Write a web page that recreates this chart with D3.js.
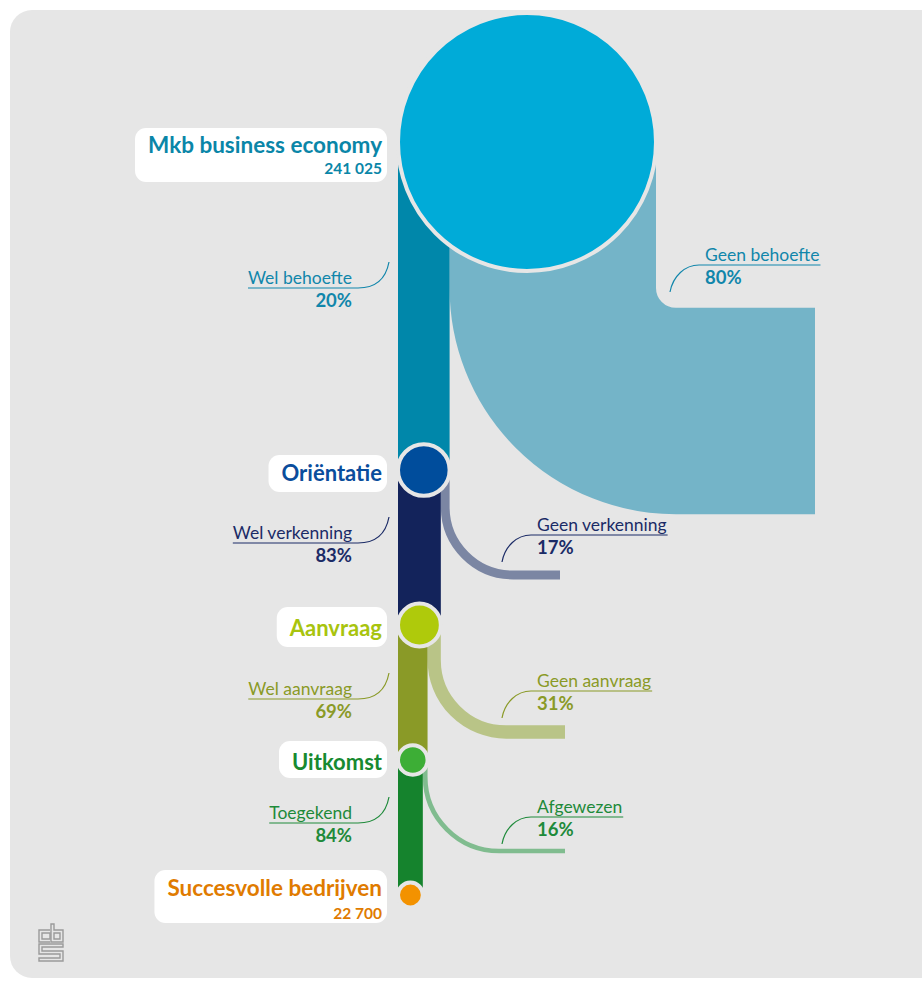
<!DOCTYPE html>
<html><head><meta charset="utf-8">
<script src="https://cdn.jsdelivr.net/npm/d3@7/dist/d3.min.js"></script>
<style>body{margin:0;background:#fff;}svg{display:block;font-family:Lato,"Open Sans",sans-serif;}</style>
</head><body>
<svg id="c" width="922" height="983"></svg>
<script>
// ---- data ----
const stages = ["Mkb business economy", "Oriëntatie", "Aanvraag", "Uitkomst", "Succesvolle bedrijven"];
const stageCounts = ["241 025", "", "", "", "22 700"];
const welLabels = ["Wel behoefte", "Wel verkenning", "Wel aanvraag", "Toegekend"];
const welPct = [20, 83, 69, 84];
const geenLabels = ["Geen behoefte", "Geen verkenning", "Geen aanvraag", "Afgewezen"];
const geenPct = [80, 17, 31, 16];

// ---- styling / layout ----
const stageColors = ["#00abd8", "#004d9c", "#afca0b", "#3dae36", "#f39200"];
const stageTextColors = ["#0a86a8", "#0a4d9c", "#a8c40e", "#178a30", "#e07b00"];
const welColors = ["#0087aa", "#13235b", "#8a9a27", "#15832d"];
const geenColors = ["#74b4c8", "#7b86a3", "#b9c487", "#80bc8f"];
const labelColors = ["#1186ab", "#1b2b66", "#8a9a27", "#1e8a3a"];
const stageY = [142, 470, 625, 760, 895];
const boxTopOff = [-14, -15, -18, -19, -25];
const boxH = [54, 37, 40, 37, 53];
const textOff = [11, 11, 11, 10, 1];
const countOff = [32, 0, 0, 0, 24];
const geenEndY = [411, 575, 732, 851];
const geenEndX = [815, 560, 565, 565];
const geenRadius = [123, 68, 72, 74];
const x0 = 398;
const bg = "#e6e6e6";

const svg = d3.select("#c");
svg.append("rect").attr("x", 10).attr("y", 10).attr("width", 940).attr("height", 968)
  .attr("rx", 22).attr("fill", bg);

// width scale: share (%) of parent width -> pixels
const topWidth = 258;
const pct = d3.scaleLinear().domain([0, 100]);
const widths = [topWidth];
welPct.forEach((p, i) => widths.push(pct.range([0, widths[i]])(p)));

// geen flows (drawn first)
geenPct.forEach((p, i) => {
  const W = widths[i];
  const g = pct.range([0, W])(p);
  const wl = W - g;
  const cx = x0 + wl + g / 2;
  const r = geenRadius[i];
  const yStart = stageY[i];
  const yEnd = geenEndY[i];
  const path = d3.path();
  path.moveTo(cx, yStart);
  path.lineTo(cx, yEnd - r);
  path.arcTo(cx, yEnd, cx + r, yEnd, r);
  path.lineTo(geenEndX[i], yEnd);
  svg.append("path").attr("d", path.toString()).attr("fill", "none")
    .attr("stroke", geenColors[i]).attr("stroke-width", g);
});

// wel bars
welPct.forEach((p, i) => {
  svg.append("rect").attr("x", x0).attr("y", stageY[i])
    .attr("width", widths[i + 1]).attr("height", stageY[i + 1] - stageY[i])
    .attr("fill", welColors[i]);
});

// stage circles
stages.forEach((s, i) => {
  const r = widths[i] / 2;
  svg.append("circle").attr("cx", x0 + r).attr("cy", stageY[i]).attr("r", r)
    .attr("fill", stageColors[i]).attr("stroke", bg).attr("stroke-width", 4);
});

// stage labels
const boxRight = 387;
stages.forEach((s, i) => {
  const g = svg.append("g");
  const big = i === 0 || i === 4 ? 22.5 : 22;
  const t = g.append("text").attr("x", boxRight - 5).attr("y", stageY[i] + textOff[i])
    .attr("text-anchor", "end").attr("font-size", big).attr("font-weight", 700)
    .attr("fill", stageTextColors[i]).text(s);
  if (stageCounts[i]) {
    g.append("text").attr("x", boxRight - 5).attr("y", stageY[i] + countOff[i])
      .attr("text-anchor", "end").attr("font-size", 15.5).attr("font-weight", 700)
      .attr("fill", stageTextColors[i]).text(stageCounts[i]);
  }
  const bw = t.node().getComputedTextLength() + 18;
  g.insert("rect", "text").attr("x", boxRight - bw).attr("y", stageY[i] + boxTopOff[i])
    .attr("width", bw).attr("height", boxH[i]).attr("rx", 11).attr("fill", "#fff");
});

// annotations
const welLineY = [288, 543, 699, 823];
const geenLineY = [265, 535, 691, 817];
const geenTextX = [705, 537, 537, 537];
const welTextRight = 352;
welLabels.forEach((l, i) => {
  const y = welLineY[i];
  const t = svg.append("text").attr("x", welTextRight).attr("y", y - 4)
    .attr("text-anchor", "end").attr("font-size", 17.5).attr("fill", labelColors[i]).text(l);
  const tw = t.node().getComputedTextLength();
  const p = d3.path();
  p.moveTo(welTextRight - tw, y);
  p.lineTo(358, y);
  p.bezierCurveTo(376, y, 386, y - 10, 389, y - 26);
  svg.append("path").attr("d", p.toString()).attr("fill", "none")
    .attr("stroke", labelColors[i]).attr("stroke-width", 1.2);
  svg.append("text").attr("x", welTextRight).attr("y", y + 19)
    .attr("text-anchor", "end").attr("font-size", 18.5).attr("font-weight", 700)
    .attr("fill", labelColors[i]).text(welPct[i] + "%");
});
geenLabels.forEach((l, i) => {
  const y = geenLineY[i];
  const tx = geenTextX[i];
  const t = svg.append("text").attr("x", tx).attr("y", y - 4)
    .attr("font-size", 17.5).attr("fill", labelColors[i]).text(l);
  const tw = t.node().getComputedTextLength();
  const p = d3.path();
  p.moveTo(tx - 35, y + 27);
  p.bezierCurveTo(tx - 32, y + 11, tx - 20, y, tx - 6, y);
  p.lineTo(tx + tw + 1, y);
  svg.append("path").attr("d", p.toString()).attr("fill", "none")
    .attr("stroke", labelColors[i]).attr("stroke-width", 1.2);
  svg.append("text").attr("x", tx).attr("y", y + 19)
    .attr("font-size", 18.5).attr("font-weight", 700)
    .attr("fill", labelColors[i]).text(geenPct[i] + "%");
});

// CBS logo
const logo = svg.append("g").attr("fill", "none").attr("stroke", "#9a9a9a").attr("stroke-width", 1.4);
logo.append("path").attr("d", "M50,930 H39 V942 H50 M42,933 H50 V939 H42 Z");
logo.append("path").attr("d", "M51,924 V942 H63 V930 H54 V924 Z M54,933 H60 V939 H54 Z");
logo.append("path").attr("d", "M39,944 H63 V947 H42 V951 H63 V961 H39 V958 H60 V954 H39 Z");
</script>
</body></html>
